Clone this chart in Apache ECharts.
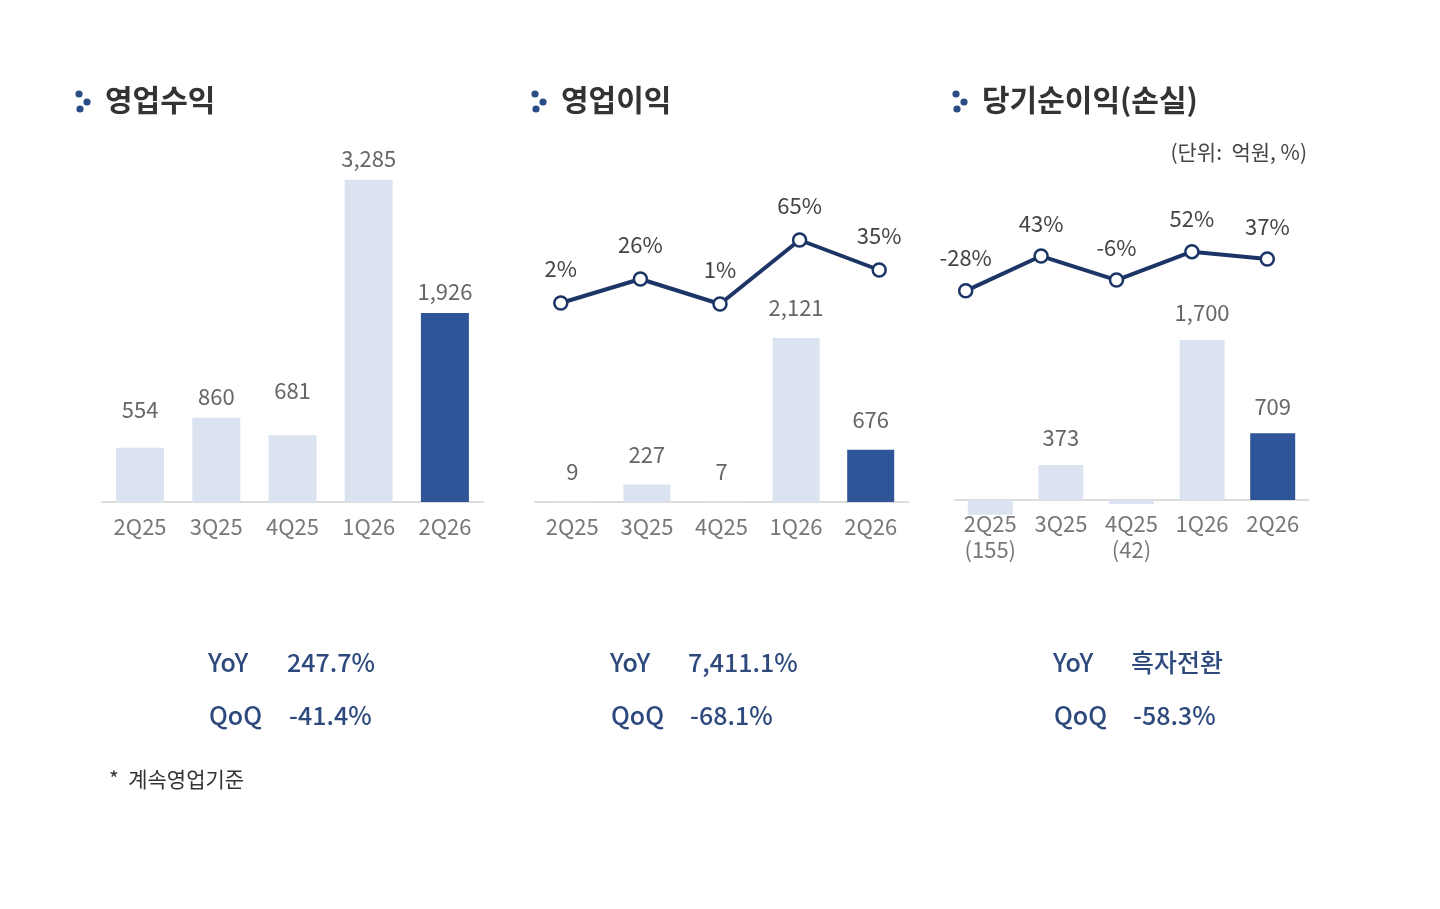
<!DOCTYPE html>
<html>
<head>
<meta charset="utf-8">
<title>실적 요약</title>
<script src="https://cdn.jsdelivr.net/npm/echarts@6/dist/echarts.min.js"></script>
<style>
  html, body { margin: 0; padding: 0; background: #fff; }
  #chart { width: 1440px; height: 909px; }
</style>
</head>
<body>
<div id="chart"></div>
<script>
// 분기
var quarters = ['2Q25', '3Q25', '4Q25', '1Q26', '2Q26'];
// 영업수익 (억원)
var revenue = [554, 860, 681, 3285, 1926];
// 영업이익 (억원) / 영업이익률 (%)
var opProfit = [9, 227, 7, 2121, 676];
var opMargin = [2, 26, 1, 65, 35];
// 당기순이익(손실) (억원) / 순이익률 (%)
var netIncome = [-155, 373, -42, 1700, 709];
var netMargin = [-28, 43, -6, 52, 37];
// 증감률
var revChange = ['247.7%', '-41.4%'];
var opChange = ['7,411.1%', '-68.1%'];
var netChange = ['흑자전환', '-58.3%'];

var FONT = '"Noto Sans CJK KR", "Noto Sans", sans-serif';
var LIGHT = '#dbe3f1';
var DARK = '#2d5597';
var NAVY = '#1c3566';
// 영업수익 라벨 위치 보정(px)
var revLabelLift = [17, 0, 24, 0, 0];

function fmt(v) {
	return Number(v).toLocaleString('en-US');
}

function barColor(params) {
	return params.dataIndex == quarters.length - 1 ? DARK : LIGHT;
}

function xAxisOf(grid, yIdx, margin, formatter) {
	return {
		type: 'category',
		gridIndex: grid,
		data: quarters,
		axisTick: {show: false},
		axisLine: {show: true, onZero: true, onZeroAxisIndex: yIdx, lineStyle: {color: '#dcdcdc', width: 2}},
		axisLabel: {color: '#777', fontSize: 22, fontFamily: FONT, margin: margin, lineHeight: 26, formatter: formatter}
	};
}

// 꺾은선용 숨김 축
function hiddenX(grid) {
	return {type: 'category', gridIndex: grid, data: quarters, show: false};
}

function barSeries(x, y, data, width, distance, lift) {
	return {
		type: 'bar',
		xAxisIndex: x,
		yAxisIndex: y,
		data: data.map(function (v, i) {
			var d = {value: v};
			if (lift && lift[i]) d.label = {offset: [0, -lift[i]]};
			return d;
		}),
		barWidth: width,
		itemStyle: {color: barColor},
		label: {
			show: true, position: 'top', distance: distance,
			color: '#666', fontSize: 22, fontFamily: FONT,
			formatter: function (p) { return p.value < 0 ? '' : fmt(p.value); }
		},
		z: 2
	};
}

function lineSeries(x, y, data, distance) {
	return {
		type: 'line',
		xAxisIndex: x,
		yAxisIndex: y,
		data: data,
		symbol: 'circle',
		symbolSize: 13,
		lineStyle: {color: NAVY, width: 4},
		itemStyle: {color: '#fff', borderColor: NAVY, borderWidth: 2.5},
		label: {
			show: true, position: 'top', distance: distance,
			color: '#444', fontSize: 22, fontFamily: FONT,
			formatter: '{c}%'
		},
		z: 5
	};
}

function title(x, text) {
	return [
		{type: 'circle', shape: {cx: x, cy: 94, r: 3.6}, style: {fill: '#2b4d85'}},
		{type: 'circle', shape: {cx: x + 8, cy: 102, r: 3.6}, style: {fill: '#2b4d85'}},
		{type: 'circle', shape: {cx: x + 1, cy: 109, r: 3.6}, style: {fill: '#2b4d85'}},
		{type: 'text', left: x + 26, top: 85, style: {text: text, fill: '#333', font: 'bold 30px ' + FONT}}
	];
}

function change(x, valX, arr) {
	var st = function (t, xx, yy) {
		return {type: 'text', left: xx, top: yy, style: {text: t, fill: '#2e4a7d', font: '500 25px ' + FONT}};
	};
	return [st('YoY', x, 650), st(arr[0], valX, 650), st('QoQ', x + 1, 703), st(arr[1], valX + 2, 703)];
}

var graphics = []
	.concat(title(79, '영업수익'))
	.concat(title(535, '영업이익'))
	.concat(title(956, '당기순이익(손실)'))
	.concat(change(208, 287, revChange))
	.concat(change(610, 688, opChange))
	.concat(change(1053, 1131, netChange));
graphics.push({type: 'text', right: 133, top: 142, style: {text: '(단위:  억원, %)', fill: '#444', font: '21px ' + FONT}});
graphics.push({type: 'text', left: 109, top: 769, style: {text: '*  계속영업기준', fill: '#333', font: '21px ' + FONT}});

var option = {
	animation: false,
	backgroundColor: '#fff',
	textStyle: {fontFamily: FONT},
	grid: [
		{left: 102, right: 957, top: 140, bottom: 407},
		{left: 535, right: 532, top: 140, bottom: 407},
		{left: 955, right: 132, top: 140, bottom: 389},
		{left: 521, right: 521, top: 140, bottom: 407},
		{left: 928, right: 135, top: 140, bottom: 389}
	],
	xAxis: [
		xAxisOf(0, 0, 12),
		xAxisOf(1, 1, 12),
		xAxisOf(2, 3, -9, function (val, idx) {
			return netIncome[idx] < 0 ? val + '\n(' + fmt(Math.abs(netIncome[idx])) + ')' : val;
		}),
		hiddenX(3),
		hiddenX(4)
	],
	yAxis: [
		{type: 'value', gridIndex: 0, min: 0, max: 3690, show: false},
		{type: 'value', gridIndex: 1, min: 0, max: 4680, show: false},
		{type: 'value', gridIndex: 3, min: -197, max: 165, show: false},
		{type: 'value', gridIndex: 2, min: -212, max: 3826, show: false},
		{type: 'value', gridIndex: 4, min: -496, max: 280, show: false}
	],
	series: [
		barSeries(0, 0, revenue, 48, 10, revLabelLift),
		barSeries(1, 1, opProfit, 47, 19),
		lineSeries(3, 2, opMargin, 16),
		barSeries(2, 3, netIncome, 45, 16),
		lineSeries(4, 4, netMargin, 14)
	],
	graphic: graphics
};

var myChart = echarts.init(document.getElementById('chart'));
myChart.setOption(option);//加载图表
</script>
</body>
</html>
